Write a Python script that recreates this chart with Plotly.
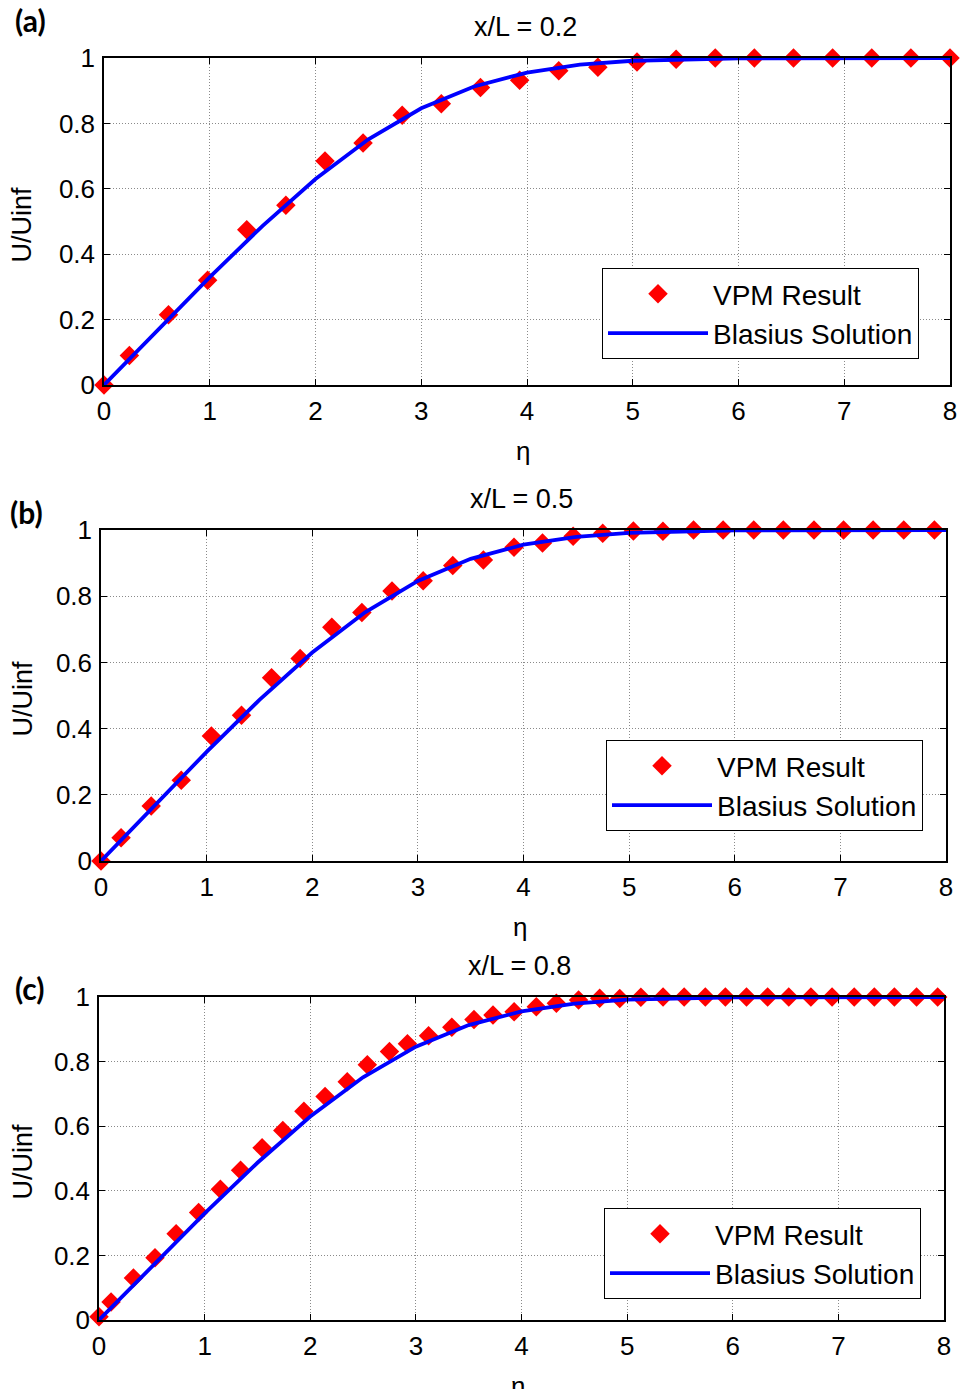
import plotly.graph_objects as go

W, H = 962, 1389

# ---------------- data ----------------
# Blasius solution (same curve in every panel)
blasius_eta = [0.0, 0.5, 1.0, 1.5, 2.0, 2.5, 3.0, 3.5, 4.0, 4.5, 5.0, 6.0, 7.0, 8.0]
blasius_u = [0.0, 0.1659, 0.3298, 0.4868, 0.6298, 0.7513, 0.8461, 0.9130, 0.9555,
             0.9795, 0.9916, 0.9990, 0.9999, 1.0]

# VPM results, x/L = 0.2
eta_a = [0, 0.24, 0.61, 0.98, 1.35, 1.72, 2.09, 2.45, 2.82, 3.19, 3.56, 3.93, 4.30,
         4.67, 5.04, 5.41, 5.78, 6.15, 6.52, 6.89, 7.26, 7.63, 8.00]
u_a = [0, 0.09, 0.215, 0.32, 0.475, 0.55, 0.685, 0.74, 0.825, 0.86, 0.91, 0.932, 0.961,
       0.972, 0.988, 0.996, 1.0, 1.0, 1.0, 1.0, 1.0, 1.0, 1.0]

# VPM results, x/L = 0.5
eta_b = [0, 0.19, 0.475, 0.76, 1.045, 1.33, 1.615, 1.885, 2.185, 2.47, 2.755, 3.05,
         3.33, 3.62, 3.91, 4.18, 4.47, 4.75, 5.04, 5.32, 5.61, 5.89, 6.18, 6.46, 6.75,
         7.03, 7.31, 7.60, 7.89]
u_b = [0, 0.07, 0.166, 0.244, 0.378, 0.44, 0.554, 0.612, 0.706, 0.751, 0.816, 0.847,
       0.893, 0.909, 0.948, 0.961, 0.981, 0.99, 0.997, 0.996, 1.0, 1.0, 1.0, 1.0, 1.0,
       1.0, 1.0, 1.0, 1.0]

# VPM results, x/L = 0.8
eta_c = [0, 0.114, 0.326, 0.53, 0.73, 0.943, 1.149, 1.34, 1.544, 1.74, 1.94, 2.14,
         2.35, 2.54, 2.75, 2.92, 3.12, 3.34, 3.55, 3.73, 3.93, 4.14, 4.33, 4.54, 4.74,
         4.93, 5.13, 5.34, 5.54, 5.74, 5.93, 6.13, 6.33, 6.53, 6.74, 6.94, 7.15, 7.34,
         7.53, 7.74, 7.94]
u_c = [0.01, 0.056, 0.13, 0.193, 0.267, 0.333, 0.405, 0.464, 0.533, 0.587, 0.646,
       0.692, 0.738, 0.79, 0.831, 0.855, 0.88, 0.906, 0.93, 0.944, 0.954, 0.97, 0.981,
       0.991, 0.996, 0.995, 0.999, 1.0, 1.0, 1.0, 1.0, 1.0, 1.0, 1.0, 1.0, 1.0, 1.0,
       1.0, 1.0, 1.0, 1.0]

panel_titles = ["x/L = 0.2", "x/L = 0.5", "x/L = 0.8"]
panel_tags = ["(a)", "(b)", "(c)"]
x_ticks = [0, 1, 2, 3, 4, 5, 6, 7, 8]
y_ticks = [0, 0.2, 0.4, 0.6, 0.8, 1]

# ---------------- layout helpers ----------------
def px(x):
    return x / W

def py(y):
    return 1 - y / H

# plot boxes in pixels: (left, right, top, bottom)
boxes = [(104, 950, 58, 385), (101, 946, 530, 861), (99, 944, 997, 1320)]
legend_pos = [(602, 268), (606, 740), (604, 1208)]
tag_pos = [(30, 20), (26, 512), (30, 988)]

FONT = "Liberation Sans, Arial, sans-serif"
fig = go.Figure()

series = [(eta_a, u_a), (eta_b, u_b), (eta_c, u_c)]
for i, (ex, uy) in enumerate(series):
    n = "" if i == 0 else str(i + 1)
    leg = "legend" + n
    fig.add_trace(go.Scatter(
        x=ex, y=uy, mode="markers", name="VPM Result",
        marker=dict(symbol="diamond", size=15, color="#ff0000"),
        xaxis="x" + n, yaxis="y" + n, legend=leg, legendgroup=f"v{i}",
        cliponaxis=False))
    fig.add_trace(go.Scatter(
        x=blasius_eta, y=blasius_u, mode="lines", name="Blasius Solution",
        line=dict(color="#0000ff", width=3.8),
        xaxis="x" + n, yaxis="y" + n, legend=leg, legendgroup=f"b{i}",
        cliponaxis=False))

layout = dict(
    width=W, height=H,
    margin=dict(l=0, r=0, t=0, b=0, pad=0, autoexpand=False),
    paper_bgcolor="white", plot_bgcolor="white",
    font=dict(family=FONT, size=26, color="black"),
    annotations=[],
)

for i, (l, r, t, b) in enumerate(boxes):
    n = "" if i == 0 else str(i + 1)
    axcommon = dict(
        showline=True, linecolor="black", linewidth=1.5, mirror="ticks",
        ticks="inside", ticklen=6, tickcolor="black", tickwidth=1,
        showgrid=True, gridcolor="#8a8a8a", gridwidth=1, griddash="1px,2px",
        zeroline=False, automargin=False,
        tickfont=dict(family=FONT, size=26, color="black"),
    )
    layout["xaxis" + n] = dict(
        axcommon, domain=[px(l), px(r)], range=[0, 8], tickvals=x_ticks,
        anchor="y" + n, ticklabelstandoff=2)
    layout["yaxis" + n] = dict(
        axcommon, domain=[py(b), py(t)], range=[0, 1], tickvals=y_ticks,
        anchor="x" + n, ticklabelstandoff=2)
    lx, ly = legend_pos[i]
    layout["legend" + n] = dict(
        x=px(lx), y=py(ly), xanchor="left", yanchor="top",
        bordercolor="black", borderwidth=1, bgcolor="white",
        font=dict(family=FONT, size=28, color="black"),
        itemwidth=100, tracegroupgap=0, traceorder="grouped")
    cx = (l + r) / 2
    ann = dict(xref="paper", yref="paper", showarrow=False,
               xanchor="center", yanchor="middle")
    layout["annotations"] += [
        dict(ann, text=panel_titles[i], x=px(cx - 2), y=py(t - 31),
             font=dict(family=FONT, size=27)),
        dict(ann, text="η", x=px(cx - 4), y=py(b + 66),
             font=dict(family=FONT, size=26)),
        dict(ann, text="U/Uinf", x=px(22), y=py((t + b) / 2 + 3), textangle=-90,
             font=dict(family=FONT, size=27)),
        dict(ann, text="<b>" + panel_tags[i] + "</b>", x=px(tag_pos[i][0]),
             y=py(tag_pos[i][1]), font=dict(family="Lato, Open Sans, sans-serif", size=30)),
    ]

fig.update_layout(**layout)
fig.write_html("out.html")
